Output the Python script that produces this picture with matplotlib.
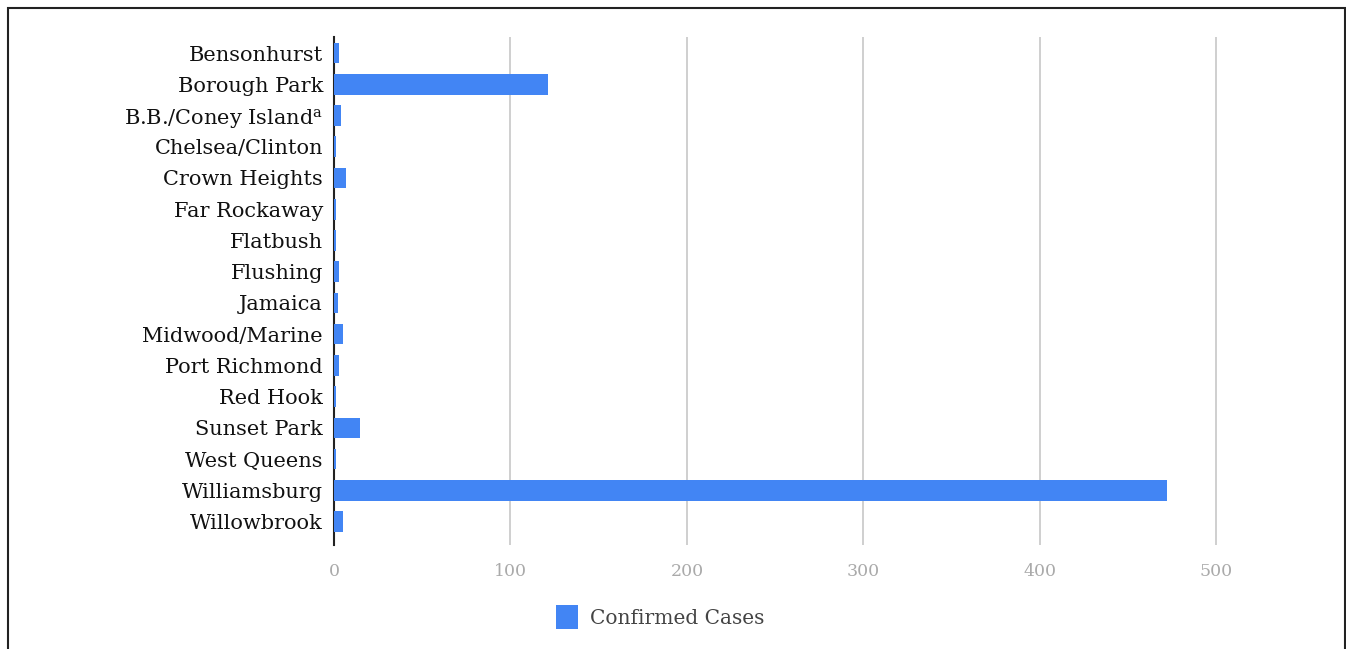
import matplotlib.pyplot as plt
from matplotlib.patches import Rectangle

plt.rcParams["font.family"] = "DejaVu Serif"
plt.rcParams["mathtext.fontset"] = "dejavuserif"

# data
areas = [
    "Bensonhurst", "Borough Park", r"B.B./Coney Island$^{\mathrm{a}}$",
    "Chelsea/Clinton", "Crown Heights", "Far Rockaway", "Flatbush",
    "Flushing", "Jamaica", "Midwood/Marine", "Port Richmond", "Red Hook",
    "Sunset Park", "West Queens", "Williamsburg", "Willowbrook",
]
confirmed = [3, 121, 4, 1, 7, 1, 1, 3, 2, 5, 3, 1, 15, 1, 472, 5]
xticks = [0, 100, 200, 300, 400, 500]

W, H = 1346, 649
fig = plt.figure(figsize=(W / 100, H / 100), dpi=100)
ax = fig.add_axes([334 / W, 1 - 545 / H, (1287 - 334) / W, (545 - 37.4) / H])

ax.barh(range(len(areas)), confirmed, height=0.66, color="#4285F4",
        label="Confirmed Cases", zorder=3)
ax.set_ylim(len(areas) - 0.25, -0.5)
ax.set_xlim(0, 540)
ax.set_yticks(range(len(areas)))
ax.set_yticklabels(areas, fontsize=15, color="#111111")
ax.set_xticks(xticks)
ax.set_xticklabels([str(t) for t in xticks], fontsize=12.5, color="#aaaaaa")
ax.tick_params(axis="both", length=0)
ax.tick_params(axis="x", pad=13)
ax.tick_params(axis="y", pad=8)
ax.grid(axis="x", color="#cccccc", linewidth=1.3, zorder=0)
for side in ["top", "right", "bottom"]:
    ax.spines[side].set_visible(False)
ax.spines["left"].set_color("#222222")
ax.spines["left"].set_linewidth(1.5)
ax.spines["left"].set_zorder(2)

fig.legend(loc="center left", bbox_to_anchor=(538 / W, 1 - 617 / H),
           frameon=False, fontsize=14.5, labelcolor="#444444",
           handlelength=1.1, handleheight=1.4, handletextpad=0.6)

# outer frame, bottom edge cut off like the reference
fig.patches.append(Rectangle((8 / W, -0.05), (1345 - 8) / W, 1.05 - 8 / H,
                             transform=fig.transFigure, fill=False,
                             edgecolor="#222222", linewidth=1.5))

fig.savefig("out.png", dpi=100)
